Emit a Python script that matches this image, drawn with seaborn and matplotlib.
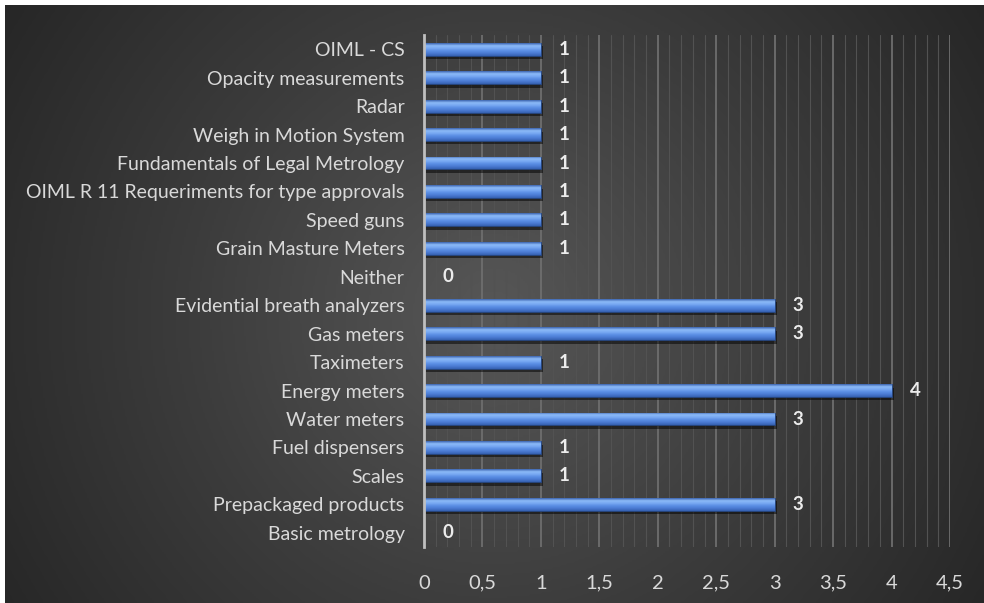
import numpy as np
import pandas as pd
import matplotlib
matplotlib.use('Agg')
import matplotlib.pyplot as plt
import matplotlib.patheffects as pe
from matplotlib.colors import LinearSegmentedColormap
from matplotlib.patches import Rectangle
from matplotlib.ticker import MultipleLocator
import seaborn as sns

categories = ["OIML - CS", "Opacity measurements", "Radar", "Weigh in Motion System",
              "Fundamentals of Legal Metrology", "OIML R 11 Requeriments for type approvals",
              "Speed guns", "Grain Masture Meters", "Neither", "Evidential breath analyzers",
              "Gas meters", "Taximeters", "Energy meters", "Water meters", "Fuel dispensers",
              "Scales", "Prepackaged products", "Basic metrology"]
values = [1, 1, 1, 1, 1, 1, 1, 1, 0, 3, 3, 1, 4, 3, 1, 1, 3, 0]
x_ticks = [0, 0.5, 1, 1.5, 2, 2.5, 3, 3.5, 4, 4.5]
x_ticklabels = ["0", "0,5", "1", "1,5", "2", "2,5", "3", "3,5", "4", "4,5"]

df = pd.DataFrame({'item': categories, 'count': values})

sns.set_style('white')
plt.rcParams['font.family'] = ['Lato', 'DejaVu Sans']
TXT = '#d9d9d9'

fig = plt.figure(figsize=(9.84, 6.03), dpi=100, facecolor='#262626')

# ---- dark radial background ----
bg = fig.add_axes([0, 0, 1, 1])
bg.set_axis_off()
h, w = 300, 490
yy, xx = np.mgrid[0:h, 0:w]
cx, cy = 0.50 * w, 0.52 * h
r = np.sqrt(((xx - cx) / (0.62 * w)) ** 2 + ((yy - cy) / (0.62 * w)) ** 2)
bg_cmap = LinearSegmentedColormap.from_list('bg', ['#575757', '#3c3c3c', '#242424'])
bg.imshow(np.clip(r, 0, 1), cmap=bg_cmap, vmin=0, vmax=1, aspect='auto',
          extent=[0, 1, 0, 1], interpolation='bilinear')
bg.set_xlim(0, 1)
bg.set_ylim(0, 1)
# thin white margin on the top and left, as in the source image
fig.patches.append(Rectangle((0, 0), 5 / 984, 1, transform=fig.transFigure,
                             facecolor='white', edgecolor='none', zorder=5))
fig.patches.append(Rectangle((0, 1 - 5 / 603), 1, 5 / 603, transform=fig.transFigure,
                             facecolor='white', edgecolor='none', zorder=5))

# ---- main chart ----
ax = fig.add_axes([424 / 984, 56 / 603, 526 / 984, 512 / 603])
ax.patch.set_alpha(0)
sns.barplot(data=df, x='count', y='item', orient='h', color='#4f83dc',
            edgecolor='#22427c', linewidth=0.6, width=0.45, ax=ax, zorder=3)

# bevel-like vertical gradient on the bars
bar_cmap = LinearSegmentedColormap.from_list(
    'bar', ['#3a62ad', '#8cbaf8', '#78a8f2', '#5a8ee4', '#4a7ad2', '#3560b0'])
grad = np.linspace(0, 1, 64).reshape(-1, 1)
for p in ax.patches:
    if p.get_width() <= 0:
        continue
    x0, y0 = p.get_x(), p.get_y()
    im = ax.imshow(grad, cmap=bar_cmap, aspect='auto', zorder=3.5,
                   extent=[x0, x0 + p.get_width(), y0 + p.get_height(), y0],
                   interpolation='bilinear')
    im.set_clip_path(p)
    p.set_path_effects([pe.SimplePatchShadow(offset=(1.5, -2.5), shadow_rgbFace='black', alpha=0.5),
                        pe.Normal()])

for c in ax.containers:
    ax.bar_label(c, padding=13, color='#ececec', fontsize=13.5, fontweight='bold')

ax.set_xlim(0, 4.5)
ax.set_ylim(17.5, -0.5)
ax.xaxis.set_minor_locator(MultipleLocator(0.1))
ax.set_xticks(x_ticks)
ax.set_xticklabels(x_ticklabels)
ax.grid(axis='x', which='major', color='#6e6e6e', linewidth=1.3, zorder=0)
ax.grid(axis='x', which='minor', color='#525252', linewidth=0.8, zorder=0)
ax.set_axisbelow(True)
ax.set_xlabel('')
ax.set_ylabel('')
for s in ['top', 'right', 'bottom']:
    ax.spines[s].set_visible(False)
ax.spines['left'].set_color('#bfbfbf')
ax.spines['left'].set_linewidth(2)
ax.spines['left'].set_zorder(4)
ax.tick_params(axis='x', which='both', length=0, pad=20, labelsize=14.5, labelcolor=TXT)
ax.tick_params(axis='y', length=0, pad=14, labelsize=14, labelcolor=TXT)

fig.savefig('out.png', dpi=100, facecolor=fig.get_facecolor())
